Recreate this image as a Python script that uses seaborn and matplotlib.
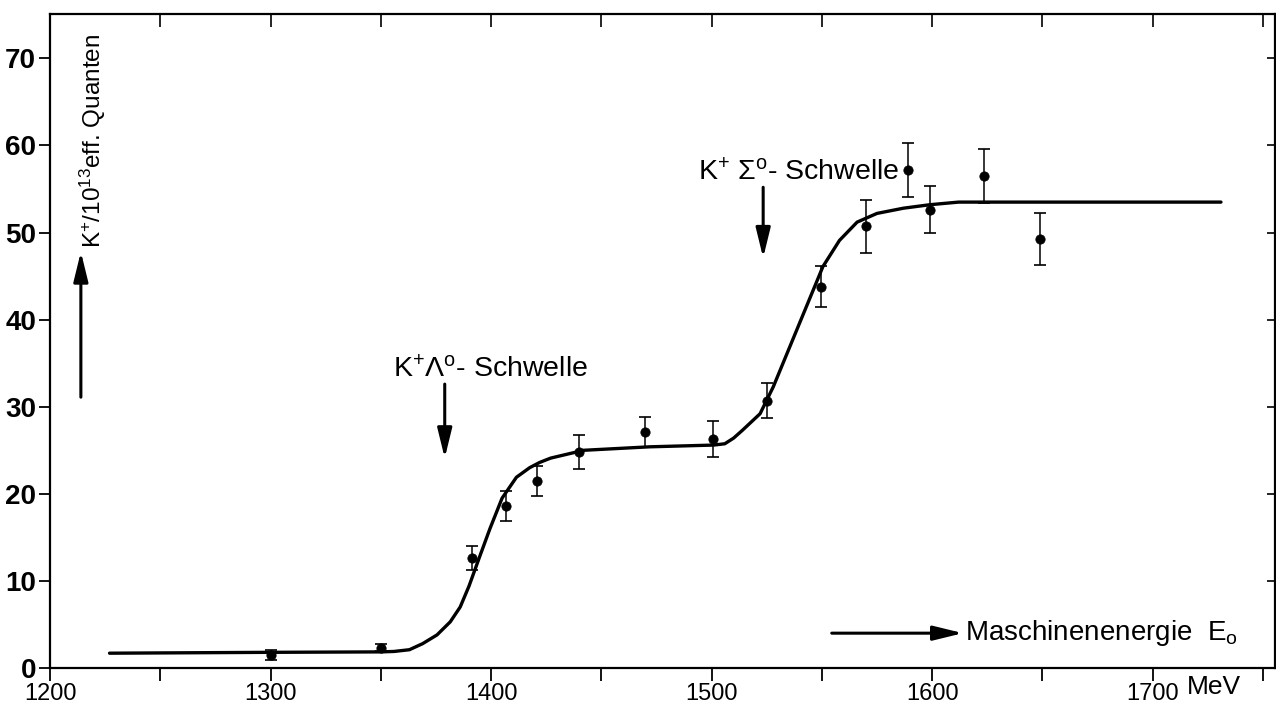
import matplotlib
matplotlib.use("Agg")
import matplotlib.pyplot as plt
import seaborn as sns
import pandas as pd

# Data (E in MeV, K+ yield per 1e13 eff. quanta)
E_meas = [1300, 1350, 1391.5, 1407, 1421, 1440, 1470, 1500.5, 1525, 1549.5, 1570, 1589, 1599, 1623.5, 1649]
K_meas = [1.5, 2.3, 12.6, 18.6, 21.5, 24.8, 27.1, 26.3, 30.7, 43.8, 50.7, 57.2, 52.6, 56.5, 49.3]
K_err = [0.6, 0.4, 1.4, 1.75, 1.75, 2.0, 1.7, 2.1, 2.0, 2.4, 3.0, 3.1, 2.7, 3.1, 3.0]

# hand drawn curve
E_fit = [1227, 1300, 1350, 1356, 1363, 1369, 1375.5, 1381.5, 1386, 1390, 1395, 1399.5, 1405,
         1411.5, 1417.5, 1422, 1427, 1442, 1472, 1501, 1506, 1510, 1514, 1522, 1528, 1535.5, 1543,
         1550.5, 1558, 1566, 1575, 1587, 1599, 1612, 1650, 1700, 1731]
K_fit = [1.7, 1.8, 1.85, 1.9, 2.1, 2.8, 3.8, 5.3, 7.0, 9.4, 12.9, 16.0, 19.5,
         21.9, 23.0, 23.6, 24.1, 25.0, 25.4, 25.6, 25.75, 26.4, 27.3, 29.2, 32.3, 36.9, 41.5,
         46.1, 49.1, 51.2, 52.2, 52.8, 53.2, 53.5, 53.5, 53.5, 53.5]

X_TICKS = [1200, 1300, 1400, 1500, 1600, 1700]
Y_TICKS = [0, 10, 20, 30, 40, 50, 60, 70]

sns.set_theme(style="ticks")
FONT = "Liberation Sans"
plt.rcParams["font.family"] = [FONT, "DejaVu Sans"]
plt.rcParams["mathtext.fontset"] = "custom"
plt.rcParams["mathtext.rm"] = FONT
plt.rcParams["mathtext.it"] = FONT + ":italic"
plt.rcParams["mathtext.bf"] = FONT + ":bold"
for key in ["text.color", "axes.labelcolor", "xtick.color", "ytick.color", "axes.edgecolor"]:
    plt.rcParams[key] = "black"

df_meas = pd.DataFrame({"E": E_meas, "K": K_meas, "err": K_err})
df_fit = pd.DataFrame({"E": E_fit, "K": K_fit})

fig = plt.figure(figsize=(12.76, 7.06), dpi=100)
ax = fig.add_axes([50 / 1276, 1 - 668 / 706, 1225 / 1276, 654 / 706])

sns.lineplot(data=df_fit, x="E", y="K", color="black", linewidth=2.4, estimator=None, ax=ax)
ax.errorbar(df_meas["E"], df_meas["K"], yerr=df_meas["err"], fmt="none",
            ecolor="black", elinewidth=1.1, capsize=4.5, capthick=1.2)
sns.scatterplot(data=df_meas, x="E", y="K", color="black", s=45, edgecolor="black", ax=ax, zorder=5)

ax.set_xlim(1200, 1755.5)
ax.set_ylim(0, 75.1)
ax.set_xlabel("")
ax.set_ylabel("")

ax.set_xticks(list(range(1200, 1751, 50)))
ax.set_xticklabels([str(v) if v in X_TICKS else "" for v in range(1200, 1751, 50)])
ax.set_yticks(Y_TICKS)
ax.tick_params(axis="x", direction="out", length=9, width=1.3, labelsize=17, pad=2)
ax.tick_params(axis="y", direction="out", length=8, width=1.3, labelsize=20, pad=2)
for lab in ax.get_yticklabels():
    lab.set_fontweight("bold")
for sp in ax.spines.values():
    sp.set_linewidth(1.6)
    sp.set_visible(True)

top = ax.secondary_xaxis("top")
top.set_xticks(list(range(1250, 1751, 50)))
top.tick_params(direction="in", length=9, width=1.2, labeltop=False)
right = ax.secondary_yaxis("right")
right.set_yticks(Y_TICKS[1:])
right.tick_params(direction="in", length=6, width=1.2, labelright=False)

ax.text(1728, -2.2, "MeV", fontsize=19, ha="center", va="center", clip_on=False)

arrow = dict(arrowstyle="-|>,head_length=0.9,head_width=0.22", color="black", lw=2.2,
             mutation_scale=20, shrinkA=0, shrinkB=0)

# y axis label with arrow
ax.annotate("", xy=(1214, 47.8), xytext=(1214, 31.1), arrowprops=arrow)
ax.text(1219.5, 48.2, r"K$^{+}$/10$^{13}$eff. Quanten", rotation=90, fontsize=17.5,
        ha="center", va="bottom")

# x axis label with arrow
ax.annotate("", xy=(1614, 4.0), xytext=(1554.5, 4.0), arrowprops=arrow)
ax.text(1615, 4.0, r"Maschinenenergie  E$_{\mathrm{o}}$", fontsize=20, ha="left", va="center")

# threshold markers
ax.annotate("", xy=(1379, 24.1), xytext=(1379, 32.6), arrowprops=arrow)
ax.text(1355.5, 33.4, r"K$^{+}$Λ$^{\mathrm{o}}$- Schwelle", fontsize=20.5, ha="left", va="baseline")
ax.annotate("", xy=(1523.4, 47.1), xytext=(1523.4, 55.2), arrowprops=arrow)
ax.text(1494, 56.0, r"K$^{+}$ Σ$^{\mathrm{o}}$- Schwelle", fontsize=20.5, ha="left", va="baseline")

fig.savefig("out.png", dpi=100)
